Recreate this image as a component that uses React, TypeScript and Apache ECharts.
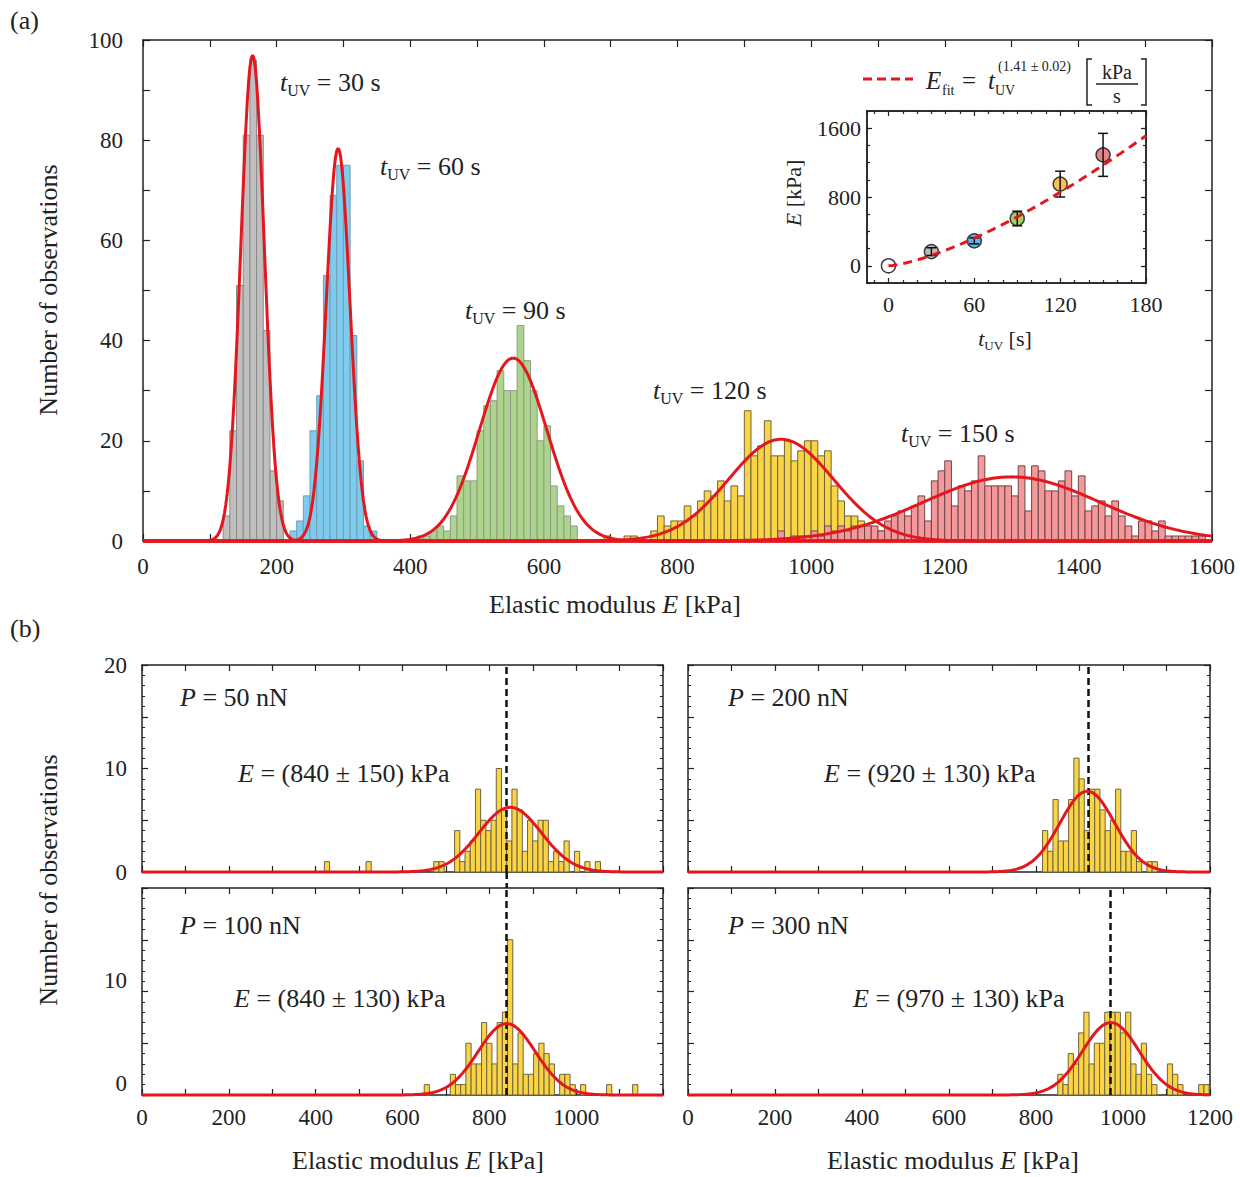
import React, { useEffect, useRef } from "react";
import * as echarts from "echarts";

const FONT = "'Liberation Serif', 'Times New Roman', serif";
const RED = "#e3171d";
const INK = "#222222";

// ---------- Panel (a): histograms [bin start (kPa), count], bin width 10 kPa ----------
const binA = 10;
const hist30 = [[120, 5], [130, 22], [140, 51], [150, 81], [160, 96], [170, 81], [180, 42], [190, 14], [200, 8]];
const hist60 = [[220, 2], [230, 4], [240, 9], [250, 22], [260, 29], [270, 53], [280, 69], [290, 75], [300, 75], [310, 41], [320, 16], [330, 3], [340, 2]];
const hist90 = [[410, 1], [420, 1], [430, 2], [440, 3], [450, 2], [460, 5], [470, 13], [480, 12], [490, 12], [500, 22], [510, 27], [520, 28], [530, 34], [540, 30], [550, 30], [560, 43], [570, 36], [580, 30], [590, 20], [600, 23], [610, 11], [620, 7], [630, 5], [640, 3]];
const hist120 = [[690, 1], [720, 1], [730, 1], [760, 2], [770, 5], [780, 3], [790, 4], [800, 4], [810, 7], [820, 5], [830, 8], [840, 10], [850, 9], [860, 12], [870, 8], [880, 11], [890, 9], [900, 26], [910, 17], [920, 19], [930, 24], [940, 17], [950, 17], [960, 20], [970, 16], [980, 18], [990, 20], [1000, 20], [1010, 17], [1020, 18], [1030, 11], [1040, 8], [1050, 5], [1060, 5], [1070, 4], [1080, 3], [1090, 2], [1100, 2]];
const hist150 = [[950, 2], [970, 1], [980, 1], [990, 1], [1000, 2], [1010, 1], [1020, 3], [1030, 2], [1040, 3], [1050, 2], [1060, 3], [1070, 3], [1080, 3], [1090, 3], [1100, 2], [1110, 4], [1120, 5], [1130, 6], [1140, 5], [1150, 7], [1160, 9], [1170, 4], [1180, 12], [1190, 14], [1200, 16], [1210, 7], [1220, 11], [1230, 10], [1240, 12], [1250, 17], [1260, 11], [1270, 11], [1280, 11], [1290, 11], [1300, 9], [1310, 15], [1320, 6], [1330, 15], [1340, 14], [1350, 10], [1360, 10], [1370, 12], [1380, 14], [1390, 9], [1400, 13], [1410, 6], [1420, 7], [1430, 8], [1440, 5], [1450, 8], [1460, 5], [1470, 3], [1480, 1], [1490, 4], [1500, 4], [1510, 2], [1520, 4], [1530, 1], [1540, 1], [1550, 1], [1560, 1], [1570, 1], [1580, 1]];

// Gaussian fits of panel (a): amplitude, mean (kPa), sigma (kPa)
const fitAmpA = [97, 78.4, 36.5, 20.3, 12.8];
const fitMeanA = [164, 292, 554, 955, 1300];
const fitSigmaA = [17.6, 17.8, 50.5, 78.6, 132];
const labelsA = ["30", "60", "90", "120", "150"];

// ---------- Inset ----------
const insetT = [0, 30, 60, 90, 120, 150];
const insetE = [0, 165, 290, 550, 950, 1290];
const insetErr = [0, 45, 35, 85, 150, 250];
const insetColors = ["#ffffff", "#a9a9a9", "#37a2dc", "#8cc63f", "#f6b12b", "#e26566"];
const fitExponent = 1.41;

// ---------- Panel (b): histograms [bin start (kPa), count], bin width 12 kPa ----------
const binB = 12;
const hist50 = [[420, 1], [516, 1], [672, 1], [684, 1], [720, 4], [732, 1], [744, 2], [756, 3], [768, 8], [780, 5], [792, 4], [804, 5], [816, 10], [828, 6], [840, 3], [852, 8], [864, 6], [876, 2], [888, 5], [900, 3], [912, 5], [924, 5], [936, 1], [948, 2], [960, 1], [972, 3], [996, 2], [1020, 1], [1044, 1]];
const hist100 = [[650, 1], [710, 2], [722, 1], [734, 1], [746, 5], [758, 3], [770, 3], [782, 7], [794, 5], [806, 3], [818, 7], [830, 8], [842, 15], [854, 3], [866, 6], [878, 2], [890, 2], [902, 4], [914, 5], [926, 4], [938, 3], [962, 2], [974, 2], [986, 1], [1010, 1], [1070, 1], [1130, 1]];
const hist200 = [[815, 4], [827, 2], [839, 7], [851, 3], [863, 3], [875, 7], [887, 11], [899, 9], [911, 4], [923, 8], [935, 8], [947, 6], [959, 4], [971, 5], [983, 8], [995, 2], [1007, 2], [1019, 4], [1031, 1], [1055, 1], [1067, 1]];
const hist300 = [[850, 2], [862, 1], [874, 4], [886, 3], [898, 6], [910, 8], [922, 3], [934, 5], [946, 5], [958, 8], [970, 8], [982, 8], [994, 6], [1006, 8], [1018, 3], [1030, 2], [1042, 5], [1054, 2], [1066, 1], [1102, 3], [1114, 2], [1126, 1], [1174, 1], [1186, 1]];

const fitAmpB = [6.25, 6.9, 7.8, 7.0];
const fitMeanB = [848, 840, 918, 972];
const fitSigmaB = [72, 66, 63, 65];
const meanLineB = [840, 840, 920, 970];
const pressB = ["50", "100", "200", "300"];
const meanTextB = ["(840 ± 150)", "(840 ± 130)", "(920 ± 130)", "(970 ± 130)"];

// ---------- helpers ----------
function gaussPts(A: number, mu: number, s: number, xmax: number, step: number) {
  const pts: number[][] = [];
  for (let x = 0; x <= xmax + 1e-9; x += step) pts.push([x, A * Math.exp(-((x - mu) * (x - mu)) / (2 * s * s))]);
  return pts;
}

function histSeries(data: number[][], w: number, axis: number, fill: string, stroke: string, z: number) {
  return {
    type: "custom",
    xAxisIndex: axis,
    yAxisIndex: axis,
    z,
    silent: true,
    data: data.map((d) => [d[0], d[0] + w, d[1]]),
    encode: { x: [0, 1], y: 2 },
    renderItem: (_p: any, api: any) => {
      const a = api.coord([api.value(0), api.value(2)]);
      const b = api.coord([api.value(1), 0]);
      return {
        type: "rect",
        shape: { x: a[0], y: a[1], width: b[0] - a[0], height: b[1] - a[1] },
        style: { fill, stroke, lineWidth: 1 },
      };
    },
  };
}

function fitSeries(pts: number[][], axis: number, markX?: number) {
  const s: any = {
    type: "line",
    xAxisIndex: axis,
    yAxisIndex: axis,
    data: pts,
    symbol: "none",
    showSymbol: false,
    silent: true,
    clip: false,
    z: 5,
    lineStyle: { color: RED, width: 3 },
  };
  if (markX !== undefined) {
    s.markLine = {
      silent: true,
      symbol: "none",
      label: { show: false },
      lineStyle: { color: "#111", type: [7, 4], width: 2.5 },
      data: [{ xAxis: markX }],
    };
  }
  return s;
}

const tick = (len: number, extra: any = {}) => ({ show: true, inside: true, length: len, lineStyle: { color: INK, width: 1.2 }, ...extra });
const noLabel = { show: false };
const lab = (size: number, margin: number, formatter?: any, extra: any = {}) => ({
  show: true, fontFamily: FONT, fontSize: size, color: INK, margin, formatter, ...extra,
});
const ax = (extra: any) => ({
  type: "value",
  splitLine: { show: false },
  axisLine: { show: true, onZero: false, lineStyle: { color: INK, width: 1.5 } },
  ...extra,
});

function richDef(S: number) {
  return {
    i: { fontFamily: FONT, fontStyle: "italic", fontSize: S, fill: INK, lineHeight: S + 6 },
    n: { fontFamily: FONT, fontSize: S, fill: INK, lineHeight: S + 6 },
    sub: { fontFamily: FONT, fontSize: Math.round(S * 0.6), fill: INK, lineHeight: Math.round(S * 0.6), verticalAlign: "bottom" },
  };
}

function txt(x: number, y: number, text: string, size: number, opts: any = {}) {
  return {
    type: "text",
    x,
    y,
    silent: true,
    rotation: opts.rot || 0,
    z: 100,
    style: {
      text,
      fill: INK,
      fontFamily: FONT,
      fontSize: size,
      fontStyle: opts.italic ? "italic" : "normal",
      textAlign: opts.align || "left",
      textVerticalAlign: "middle",
      rich: opts.rich ? richDef(size) : undefined,
    },
  };
}

function buildOption() {
  const grids = [
    { left: 143, top: 40, width: 1069, height: 501 },
    { left: 142, top: 665, width: 521, height: 207 },
    { left: 142, top: 888, width: 521, height: 207 },
    { left: 688, top: 665, width: 522, height: 207 },
    { left: 688, top: 888, width: 522, height: 207 },
    { left: 867, top: 111, width: 279, height: 172 },
  ];

  const xB = (grid: number, pos: string, labels: any) =>
    ax({ gridIndex: grid, position: pos, min: 0, max: 1200, interval: 100, axisTick: tick(6), axisLabel: labels });
  const yB = (grid: number, pos: string, labels: any) =>
    ax({
      gridIndex: grid, position: pos, min: 0, max: 20, interval: 5,
      axisTick: tick(6), minorTick: { show: true, splitNumber: 5, length: 3, lineStyle: { color: INK, width: 1 } },
      axisLabel: labels,
    });

  const majT = [0, 60, 120, 180];
  const minT = [-10, 10, 20, 30, 40, 50, 70, 80, 90, 100, 110, 130, 140, 150, 160, 170];
  const majE = [0, 800, 1600];
  const plain = (v: number) => String(v);

  const xAxis = [
    ax({ gridIndex: 0, position: "bottom", min: 0, max: 1600, interval: 100, axisTick: tick(7), axisLabel: lab(23, 14, (v: number) => (v % 200 === 0 ? String(v) : "")) }),
    ax({ gridIndex: 0, position: "top", min: 0, max: 1600, interval: 100, axisTick: tick(7), axisLabel: noLabel }),
    xB(1, "bottom", noLabel),
    xB(1, "top", noLabel),
    xB(2, "bottom", lab(23, 11, (v: number) => (v % 200 === 0 && v < 1200 ? String(v) : ""))),
    xB(2, "top", noLabel),
    xB(3, "bottom", noLabel),
    xB(3, "top", noLabel),
    xB(4, "bottom", lab(23, 11, (v: number) => (v % 200 === 0 ? String(v) : ""))),
    xB(4, "top", noLabel),
    ax({ gridIndex: 5, position: "bottom", min: -15, max: 180, axisTick: tick(5, { customValues: majT }), axisLabel: lab(22, 10, plain, { customValues: majT }) }),
    ax({ gridIndex: 5, position: "bottom", min: -15, max: 180, axisTick: tick(3, { customValues: minT }), axisLabel: noLabel }),
    ax({ gridIndex: 5, position: "top", min: -15, max: 180, axisTick: tick(5, { customValues: majT }), axisLabel: noLabel }),
    ax({ gridIndex: 5, position: "top", min: -15, max: 180, axisTick: tick(3, { customValues: minT }), axisLabel: noLabel }),
  ];

  const yAxis = [
    ax({ gridIndex: 0, position: "left", min: 0, max: 100, interval: 10, axisTick: tick(7), axisLabel: lab(23, 20, (v: number) => (v % 20 === 0 ? String(v) : "")) }),
    ax({ gridIndex: 0, position: "right", min: 0, max: 100, interval: 10, axisTick: tick(7), axisLabel: noLabel }),
    yB(1, "left", lab(23, 15, (v: number) => (v % 10 === 0 ? String(v) : ""))),
    yB(1, "right", noLabel),
    yB(2, "left", lab(23, 15, (v: number) => (v % 10 === 0 && v < 20 ? String(v) : ""), { verticalAlign: "bottom" })),
    yB(2, "right", noLabel),
    yB(3, "left", noLabel),
    yB(3, "right", noLabel),
    yB(4, "left", noLabel),
    yB(4, "right", noLabel),
    ax({ gridIndex: 5, position: "left", min: -200, max: 1800, axisTick: tick(5, { customValues: majE }), axisLabel: lab(22, 6, plain, { customValues: majE }) }),
    ax({ gridIndex: 5, position: "left", min: -200, max: 1800, interval: 200, axisTick: tick(3), axisLabel: noLabel }),
    ax({ gridIndex: 5, position: "right", min: -200, max: 1800, axisTick: tick(5, { customValues: majE }), axisLabel: noLabel }),
    ax({ gridIndex: 5, position: "right", min: -200, max: 1800, interval: 200, axisTick: tick(3), axisLabel: noLabel }),
  ];

  const series: any[] = [
    histSeries(hist30, binA, 0, "#bfbfbf", "#8a8a8a", 2),
    histSeries(hist60, binA, 0, "#7ecbee", "#6f9db5", 2),
    histSeries(hist90, binA, 0, "#acd48c", "#8e9a86", 2),
    histSeries(hist120, binA, 0, "#fad445", "#6e6440", 2),
    histSeries(hist150, binA, 0, "#f4989b", "#6d4646", 2),
  ];
  for (let k = 0; k < fitAmpA.length; k++) {
    series.push(fitSeries(gaussPts(fitAmpA[k], fitMeanA[k], fitSigmaA[k], 1600, 2), 0));
  }

  const histB = [hist50, hist100, hist200, hist300];
  const axesB = [2, 4, 6, 8];
  for (let k = 0; k < 4; k++) {
    series.push(histSeries(histB[k], binB, axesB[k], "#fad445", "#6e6440", 2));
    series.push(fitSeries(gaussPts(fitAmpB[k], fitMeanB[k], fitSigmaB[k], 1200, 3), axesB[k], meanLineB[k]));
  }

  // inset
  series.push({
    type: "scatter",
    xAxisIndex: 10,
    yAxisIndex: 10,
    symbol: "circle",
    symbolSize: 14,
    z: 2,
    silent: true,
    clip: false,
    data: insetT.map((t, i) => ({ value: [t, insetE[i]], itemStyle: { color: insetColors[i], borderColor: "#111", borderWidth: 1.5 } })),
  });
  series.push({
    type: "custom",
    xAxisIndex: 10,
    yAxisIndex: 10,
    z: 3,
    silent: true,
    data: insetT.map((t, i) => [t, insetE[i], insetErr[i]]).filter((d) => d[2] > 0),
    renderItem: (_p: any, api: any) => {
      const x = api.value(0), y = api.value(1), e = api.value(2);
      const top = api.coord([x, y + e]);
      const bot = api.coord([x, y - e]);
      const st = { stroke: "#111", lineWidth: 1.5 };
      return {
        type: "group",
        children: [
          { type: "line", shape: { x1: top[0], y1: top[1], x2: bot[0], y2: bot[1] }, style: st },
          { type: "line", shape: { x1: top[0] - 5, y1: top[1], x2: top[0] + 5, y2: top[1] }, style: st },
          { type: "line", shape: { x1: bot[0] - 5, y1: bot[1], x2: bot[0] + 5, y2: bot[1] }, style: st },
        ],
      };
    },
  });
  const fitInset: number[][] = [];
  for (let t = 0; t <= 180; t += 3) fitInset.push([t, Math.pow(t, fitExponent)]);
  series.push({
    type: "line",
    xAxisIndex: 10,
    yAxisIndex: 10,
    data: fitInset,
    symbol: "none",
    silent: true,
    z: 4,
    lineStyle: { color: RED, width: 3, type: [9, 6] },
  });

  return { animation: false, backgroundColor: "#ffffff", grid: grids, xAxis, yAxis, series };
}

function buildGraphic(gapX: number) {
  const els: any[] = [];
  els.push(txt(10, 20, "(a)", 26));
  els.push(txt(10, 628, "(b)", 26));
  els.push(txt(48, 290, "Number of observations", 26, { rot: Math.PI / 2, align: "center" }));
  els.push(txt(48, 880, "Number of observations", 26, { rot: Math.PI / 2, align: "center" }));
  els.push(txt(615, 604, "{n|Elastic modulus }{i|E}{n| [kPa]}", 26, { align: "center", rich: true }));
  els.push(txt(418, 1160, "{n|Elastic modulus }{i|E}{n| [kPa]}", 26, { align: "center", rich: true }));
  els.push(txt(953, 1160, "{n|Elastic modulus }{i|E}{n| [kPa]}", 26, { align: "center", rich: true }));

  const posA = [[280, 82], [380, 166], [465, 310], [653, 390], [901, 433]];
  for (let k = 0; k < labelsA.length; k++) {
    els.push(txt(posA[k][0], posA[k][1], `{i|t}{sub|UV}{n| = ${labelsA[k]} s}`, 26, { rich: true }));
  }

  const posP = [[180, 697], [180, 925], [728, 697], [728, 925]];
  const posE = [[238, 773], [234, 998], [824, 773], [853, 998]];
  for (let k = 0; k < 4; k++) {
    els.push(txt(posP[k][0], posP[k][1], `{i|P}{n| = ${pressB[k]} nN}`, 26, { rich: true }));
    els.push(txt(posE[k][0], posE[k][1], `{i|E}{n| = ${meanTextB[k]} kPa}`, 26, { rich: true }));
  }

  // inset axis titles
  els.push(txt(793, 193, "{i|E}{n| [kPa]}", 22, { rot: Math.PI / 2, align: "center", rich: true }));
  els.push(txt(1005, 338, "{i|t}{sub|UV}{n| [s]}", 22, { align: "center", rich: true }));

  // inset legend
  els.push({ type: "line", silent: true, shape: { x1: 863, y1: 79, x2: 913, y2: 79 }, style: { stroke: RED, lineWidth: 3, lineDash: [9, 5] } });
  els.push(txt(926, 80, "E", 25, { italic: true }));
  els.push(txt(942, 90, "fit", 14));
  els.push(txt(962, 80, "=", 25));
  els.push(txt(988, 80, "t", 25, { italic: true }));
  els.push(txt(995, 90, "UV", 14));
  els.push(txt(998, 66, "(1.41 ± 0.02)", 14));
  els.push({ type: "polyline", silent: true, shape: { points: [[1092, 59], [1087, 59], [1087, 105], [1092, 105]] }, style: { stroke: INK, lineWidth: 1.5, fill: "none" } });
  els.push({ type: "polyline", silent: true, shape: { points: [[1141, 59], [1146, 59], [1146, 105], [1141, 105]] }, style: { stroke: INK, lineWidth: 1.5, fill: "none" } });
  els.push(txt(1117, 72, "kPa", 20, { align: "center" }));
  els.push({ type: "line", silent: true, shape: { x1: 1096, y1: 84, x2: 1138, y2: 84 }, style: { stroke: INK, lineWidth: 1.3 } });
  els.push(txt(1117, 96, "s", 20, { align: "center" }));

  // dashed mean line across the gap between the two left panels
  els.push({ type: "line", silent: true, z: 100, shape: { x1: gapX, y1: 872, x2: gapX, y2: 888 }, style: { stroke: "#111", lineWidth: 2.5, lineDash: [7, 4] } });
  return els;
}

export default function App() {
  const ref = useRef<HTMLDivElement>(null);
  useEffect(() => {
    const chart = echarts.init(ref.current as HTMLDivElement, undefined, { renderer: "svg" });
    chart.setOption(buildOption() as any);
    const gx = chart.convertToPixel({ xAxisIndex: 2 } as any, meanLineB[0]) as unknown as number;
    chart.setOption({ graphic: { elements: buildGraphic(gx) } } as any);
    return () => chart.dispose();
  }, []);
  return <div ref={ref} style={{ position: "absolute", left: 0, top: 0, width: 1240, height: 1177, background: "#fff" }} />;
}
